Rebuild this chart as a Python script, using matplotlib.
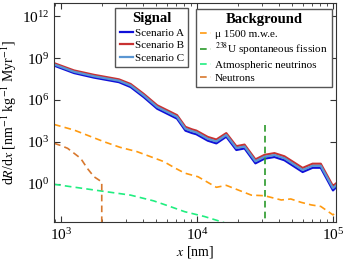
import numpy as np
import matplotlib
matplotlib.use("Agg")
import matplotlib.pyplot as plt
from matplotlib.ticker import LogLocator, NullLocator, NullFormatter

plt.rcParams['font.family'] = ['Liberation Serif', 'DejaVu Serif']
plt.rcParams['mathtext.fontset'] = 'stix'

# signal spectra (x in nm)
x_sig = [893, 1250, 1754, 2673, 3258, 4074, 5105, 7145, 8241, 9204, 9908, 12020,
         13900, 16440, 19500, 22390, 26920, 31400, 37150, 43950, 59840, 70790,
         81280, 100000, 105900]
sig_A = [2.9e8, 8.5e7, 4.0e7, 1.9e7, 8.5e6, 1.6e6, 2.4e5, 4.7e4, 6.5e3, 4.4e3, 3.6e3,
         1.25e3, 800, 2.4e3, 270, 350, 30, 65, 85, 50, 7.2, 14.5, 14.5, 0.35, 0.6]
sig_B = [4.3e8, 1.3e8, 6.3e7, 3.0e7, 1.4e7, 2.7e6, 4.2e5, 8.3e4, 1.2e4, 8.0e3, 6.5e3,
         2.3e3, 1.5e3, 4.3e3, 500, 650, 57, 120, 160, 95, 14, 28, 28, 0.7, 1.15]
sig_C = [3.5e8, 1.05e8, 5.0e7, 2.4e7, 1.1e7, 2.1e6, 3.2e5, 6.3e4, 8.9e3, 6.0e3, 4.9e3,
         1.7e3, 1.1e3, 3.2e3, 370, 480, 42, 89, 117, 69, 10, 20, 20, 0.5, 0.83]

# backgrounds
x_mu = [893, 1250, 2075, 2720, 3630, 5710, 6890, 8130, 10190, 13900, 16440, 25120,
        31400, 41690, 48980, 58210, 69180, 81280, 100000, 105900]
bg_mu = [1.8e4, 7.2e3, 1.05e3, 420, 205, 40, 14, 6.0, 3.3, 0.58, 0.8, 0.16, 0.145,
         0.072, 0.085, 0.049, 0.032, 0.025, 0.0062, 0.0105]

x_fis = [31400, 31400]
bg_fis = [1e-4, 2.8e4]

x_atm = [893, 1963, 3258, 4820, 6400, 8130, 11400, 15140, 20000]
bg_atm = [0.95, 0.32, 0.16, 0.062, 0.024, 0.0105, 0.0047, 0.002, 8e-4]

x_neu = [893, 1000, 1122, 1400, 1567, 1754, 1963, 2000, 2000]
bg_neu = [813, 560, 355, 68, 13, 3.3, 1.6, 1.45, 1e-4]

fig = plt.figure(figsize=(3.49, 2.64), dpi=100)
ax = fig.add_axes([0.155, 0.160, 0.809, 0.827])

lA, = ax.plot(x_sig, sig_A, color='#1010d8', lw=1.6, label='Scenario A')
lB, = ax.plot(x_sig, sig_B, color='#c83232', lw=1.6, label='Scenario B')
lC, = ax.plot(x_sig, sig_C, color='#5a96d2', lw=1.6, label='Scenario C')

dash = (0, (4, 2.5))
b1, = ax.plot(x_mu, bg_mu, color='#ff9a10', lw=1.2, ls=dash, label='μ 1500 m.w.e.')
b2, = ax.plot(x_fis, bg_fis, color='#2a9a2a', lw=1.2, ls=dash,
              label='$^{238}$U spontaneous fission')
b3, = ax.plot(x_atm, bg_atm, color='#20ee80', lw=1.2, ls=dash, label='Atmospheric neutrinos')
b4, = ax.plot(x_neu, bg_neu, color='#d8782e', lw=1.2, ls=dash, label='Neutrons')

ax.set_xscale('log')
ax.set_yscale('log')
ax.set_xlim(893, 1.06e5)
ax.set_ylim(2e-3, 8e12)

ax.set_yticks([1, 1e3, 1e6, 1e9, 1e12])
ax.yaxis.set_minor_locator(NullLocator())
ax.xaxis.set_minor_locator(LogLocator(base=10, subs=np.arange(2, 10)))
ax.xaxis.set_minor_formatter(NullFormatter())
ax.tick_params(which='both', direction='in', top=True, right=True, labelsize=11,
               color='#333333')
ax.tick_params(which='major', length=4)
ax.tick_params(which='minor', length=2.5)
for s in ax.spines.values():
    s.set_color('#333333')

ax.set_xlabel('$x$ [nm]', fontsize=10, labelpad=1)
ax.set_ylabel('d$R$/d$x$ [nm$^{-1}$ kg$^{-1}$ Myr$^{-1}$]', fontsize=10, labelpad=2)

leg1 = ax.legend(handles=[lA, lB, lC], title='Signal', loc='upper left',
                 bbox_to_anchor=(0.216, 0.98), fontsize=8, handlelength=1.2,
                 handletextpad=0.15, labelspacing=0.25, borderpad=0.4,
                 fancybox=False, edgecolor='#555555', framealpha=1, borderaxespad=0)
leg1.get_title().set_fontweight('bold')
leg1.get_title().set_fontsize(10.5)
ax.add_artist(leg1)

leg2 = ax.legend(handles=[b1, b2, b3, b4], title='Background', loc='upper left',
                 bbox_to_anchor=(0.502, 0.975), fontsize=8, handlelength=1.0,
                 handletextpad=0.3, labelspacing=0.22, borderpad=0.4,
                 fancybox=False, edgecolor='#555555', framealpha=1, borderaxespad=0)
leg2.get_title().set_fontweight('bold')
leg2.get_title().set_fontsize(10.5)

fig.savefig('out.png', dpi=100)
